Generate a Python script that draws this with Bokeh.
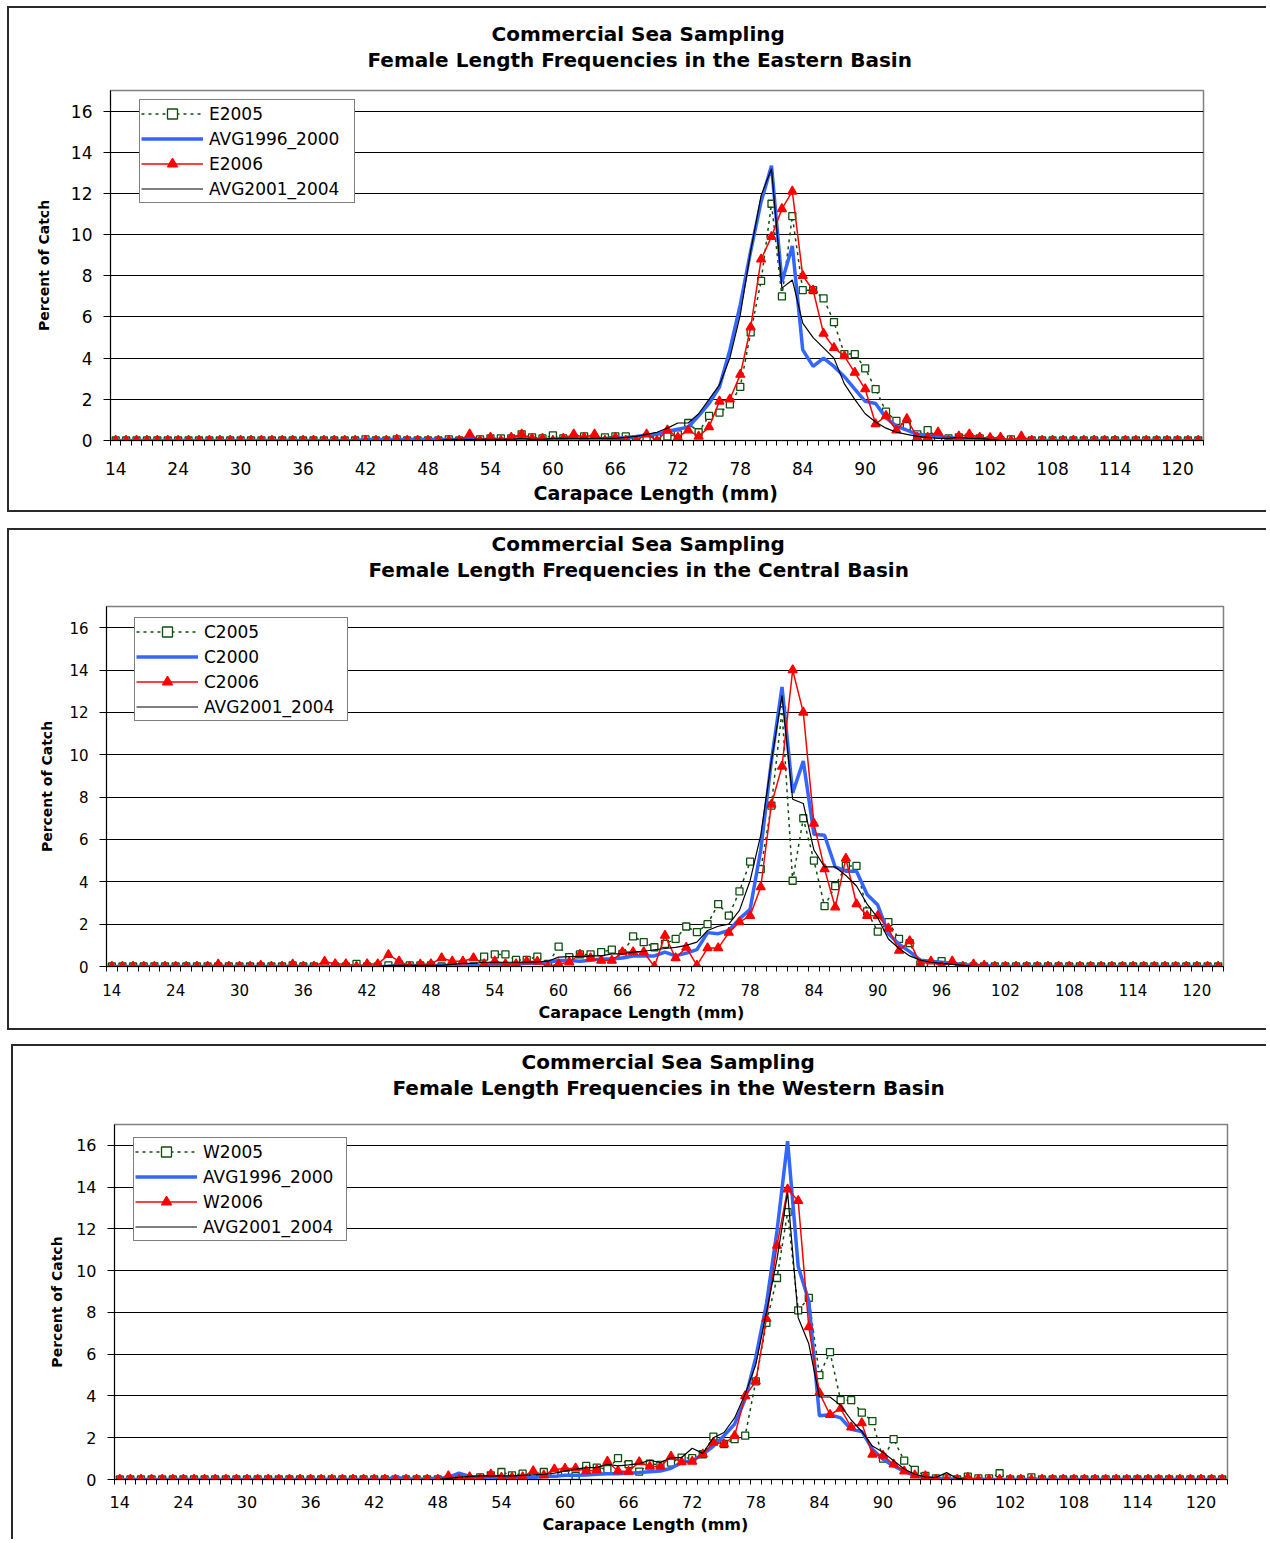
from bokeh.plotting import figure
from bokeh.models import (Range1d, FixedTicker, Legend, LegendItem, Title,
                          ColumnDataSource)
from bokeh.embed import file_html
from bokeh.resources import INLINE

# ---------------- data ----------------
# carapace-length categories of the x axis (one per mm after the first bin)
lengths = [14] + list(range(19, 123))
tick_lengths = [14, 24, 30, 36, 42, 48, 54, 60, 66, 72, 78, 84, 90, 96, 102, 108, 114, 120]
tick_labels = [str(v) for v in tick_lengths]

# values below are for lengths 28..105 (all other categories read as 0)
FIRST = 28

# Eastern basin
E2005 = [0, 0, 0, 0, 0, 0, 0, 0, 0, 0,
         0, 0, 0, 0, 0.05, 0, 0, 0.05, 0, 0,
         0, 0, 0.05, 0, 0, 0.05, 0.1, 0.1, 0.1, 0.3,
         0.15, 0.1, 0.25, 0.1, 0.1, 0.2, 0, 0.15, 0.2, 0.2,
         0.05, 0.15, 0.2, 0.2, 0.3, 0.85, 0.4, 1.2, 1.35, 1.75,
         2.6, 5.25, 7.75, 11.5, 7.0, 10.9, 7.3, 7.3, 6.9, 5.75,
         4.2, 4.2, 3.5, 2.5, 1.4, 0.95, 0.7, 0.3, 0.5, 0.15,
         0.1, 0.15, 0.15, 0.1, 0, 0, 0.05, 0]
E_AVG1996_2000 = [0, 0, 0, 0, 0, 0, 0, 0, 0, 0,
                  0, 0, 0, 0, 0.05, 0.05, 0.05, 0.05, 0.05, 0.05,
                  0.05, 0.05, 0.05, 0.05, 0.05, 0.05, 0.05, 0.05, 0.05, 0.1,
                  0.05, 0.05, 0.05, 0.1, 0.1, 0.05, 0.05, 0.1, 0.1, 0.15,
                  0.2, 0.25, 0.3, 0.45, 0.55, 0.65, 1.2, 1.8, 2.6, 4.4,
                  6.6, 9.2, 11.6, 13.35, 7.7, 9.45, 4.4, 3.6, 4.0, 3.6,
                  3.1, 2.5, 1.9, 1.8, 1.1, 0.7, 0.5, 0.3, 0.25, 0.2,
                  0.15, 0.1, 0.1, 0.1, 0.05, 0.05, 0, 0]
E2006 = [0, 0, 0, 0, 0, 0, 0, 0, 0, 0,
         0, 0, 0, 0, 0, 0, 0, 0.05, 0, 0,
         0, 0, 0, 0, 0.3, 0, 0.15, 0, 0.15, 0.3,
         0.1, 0.1, 0, 0.1, 0.3, 0.15, 0.3, 0, 0.15, 0,
         0, 0.3, 0, 0.5, 0.15, 0.5, 0.2, 0.65, 1.9, 2.0,
         3.2, 5.5, 8.8, 9.9, 11.25, 12.1, 8.0, 7.3, 5.2, 4.5,
         4.1, 3.3, 2.5, 0.8, 1.2, 0.5, 1.05, 0.15, 0.15, 0.4,
         0, 0.2, 0.3, 0.15, 0.13, 0.15, 0, 0.2]
E_AVG2001_2004 = [0, 0, 0, 0, 0, 0, 0, 0, 0, 0,
                  0, 0, 0, 0, 0, 0, 0, 0, 0, 0,
                  0, 0, 0.05, 0.05, 0.05, 0.05, 0.05, 0.05, 0.05, 0.1,
                  0.05, 0.05, 0.1, 0.1, 0.1, 0.1, 0.1, 0.1, 0.1, 0.15,
                  0.2, 0.3, 0.4, 0.6, 0.85, 0.85, 1.3, 2.0, 2.7, 4.0,
                  6.1, 9.2, 11.9, 13.2, 7.4, 7.8, 5.7, 5.0, 4.5, 4.0,
                  2.75, 2.0, 1.3, 0.9, 0.6, 0.4, 0.3, 0.2, 0.15, 0.1,
                  0.1, 0.15, 0.1, 0.1, 0.05, 0, 0, 0]

# Central basin
C2005 = [0, 0, 0, 0, 0, 0, 0, 0.05, 0, 0,
         0, 0, 0, 0.12, 0, 0, 0.05, 0.1, 0.05, 0.05,
         0.05, 0, 0, 0.1, 0, 0.47, 0.57, 0.57, 0.31, 0.31,
         0.47, 0.12, 0.94, 0.44, 0.57, 0.57, 0.68, 0.8, 0.6, 1.42,
         1.15, 0.91, 1.07, 1.3, 1.89, 1.62, 2.0, 2.95, 2.4, 3.55,
         4.95, 4.6, 7.6, 12.1, 4.05, 7.0, 5.0, 2.85, 3.8, 4.75,
         4.75, 2.6, 1.65, 2.1, 1.3, 1.1, 0.1, 0.1, 0.25, 0.05,
         0, 0, 0, 0, 0, 0, 0, 0]
C2000 = [0, 0, 0, 0, 0, 0, 0, 0, 0, 0,
         0, 0, 0, 0, 0, 0, 0, 0.05, 0.05, 0.05,
         0.05, 0.05, 0.05, 0.05, 0.05, 0.05, 0.1, 0.1, 0.12, 0.15,
         0.15, 0.2, 0.28, 0.28, 0.25, 0.3, 0.36, 0.35, 0.4, 0.5,
         0.5, 0.5, 0.68, 0.5, 0.63, 0.8, 1.6, 1.55, 1.7, 2.25,
         2.7, 5.5, 9.7, 13.2, 8.2, 9.7, 6.25, 6.2, 4.7, 4.5,
         4.5, 3.4, 2.9, 1.55, 1.05, 0.7, 0.3, 0.25, 0.2, 0.15,
         0.1, 0.05, 0.05, 0, 0, 0, 0, 0]
C2006 = [0.1, 0, 0, 0, 0.05, 0, 0, 0.1, 0, 0,
         0.24, 0.12, 0.12, 0, 0.12, 0.12, 0.55, 0.25, 0, 0.1,
         0.12, 0.4, 0.25, 0.25, 0.4, 0.12, 0.25, 0.12, 0.12, 0.25,
         0.24, 0, 0.12, 0.2, 0.57, 0.4, 0.28, 0.28, 0.68, 0.68,
         0.68, 0, 1.46, 0.4, 0.9, 0.05, 0.87, 0.87, 1.6, 2.1,
         2.4, 3.75, 7.65, 9.45, 14.0, 12.0, 6.75, 4.6, 2.8, 5.1,
         2.95, 2.4, 2.4, 1.8, 0.75, 1.2, 0.1, 0.25, 0, 0.25,
         0, 0.1, 0.05, 0, 0, 0, 0, 0]
C_AVG2001_2004 = [0, 0, 0, 0, 0, 0, 0, 0, 0, 0,
                  0, 0, 0, 0, 0, 0, 0.05, 0.05, 0.05, 0.05,
                  0.05, 0.05, 0.1, 0.15, 0.15, 0.2, 0.2, 0.2, 0.2, 0.2,
                  0.22, 0.25, 0.44, 0.47, 0.47, 0.5, 0.5, 0.6, 0.6, 0.68,
                  0.72, 0.79, 0.85, 0.9, 1.0, 1.15, 1.7, 1.9, 2.0, 2.65,
                  4.05, 6.2, 9.7, 12.8, 7.9, 7.7, 5.5, 4.7, 4.7, 4.3,
                  3.8, 2.95, 2.3, 1.3, 0.85, 0.5, 0.3, 0.2, 0.15, 0.1,
                  0.05, 0, 0, 0, 0, 0, 0, 0]

# Western basin
W2005 = [0, 0, 0, 0, 0, 0, 0, 0, 0, 0,
         0, 0, 0, 0, 0, 0, 0, 0, 0, 0,
         0, 0, 0, 0, 0.1, 0.2, 0.36, 0.2, 0.28, 0.12,
         0.36, 0.3, 0.38, 0.17, 0.65, 0.57, 0.5, 1.02, 0.73, 0.38,
         0.76, 0.7, 0.81, 1.05, 1.02, 1.21, 2.05, 1.7, 1.93, 2.1,
         4.7, 7.5, 9.65, 12.8, 8.1, 8.7, 5.0, 6.1, 3.8, 3.8,
         3.2, 2.8, 1.0, 1.93, 0.9, 0.46, 0.17, 0.05, 0.05, 0,
         0.14, 0.05, 0.05, 0.3, 0, 0, 0.1, 0]
W_AVG1996_2000 = [0, 0, 0, 0, 0, 0, 0, 0, 0, 0,
                  0, 0, 0, 0, 0, 0, 0.1, 0.05, 0, 0.05,
                  0.05, 0.1, 0.3, 0.15, 0.1, 0.1, 0.1, 0.1, 0.1, 0.1,
                  0.15, 0.15, 0.2, 0.2, 0.22, 0.25, 0.27, 0.28, 0.3, 0.33,
                  0.37, 0.41, 0.54, 0.81, 0.9, 1.2, 1.6, 2.1, 2.65, 3.85,
                  5.85, 8.4, 11.9, 16.2, 10.2, 8.55, 3.05, 3.1, 2.95, 2.4,
                  2.3, 1.45, 0.97, 0.65, 0.4, 0.17, 0.1, 0.05, 0.05, 0,
                  0, 0, 0, 0, 0, 0, 0, 0]
W2006 = [0, 0, 0, 0, 0, 0, 0, 0, 0, 0,
         0, 0, 0, 0, 0, 0, 0, 0, 0, 0,
         0, 0.17, 0, 0.12, 0.05, 0.25, 0.1, 0.1, 0.12, 0.41,
         0.2, 0.49, 0.52, 0.54, 0.41, 0.46, 0.86, 0.41, 0.38, 0.84,
         0.62, 0.62, 1.1, 0.84, 0.86, 1.21, 1.77, 1.7, 2.1, 4.0,
         4.7, 7.7, 11.2, 13.9, 13.35, 7.3, 4.15, 3.1, 3.4, 2.5,
         2.7, 1.2, 1.15, 0.73, 0.4, 0.2, 0.17, 0, 0, 0,
         0.1, 0, 0, 0, 0, 0, 0, 0]
W_AVG2001_2004 = [0, 0, 0, 0, 0, 0, 0, 0, 0, 0,
                  0, 0, 0, 0, 0, 0, 0, 0, 0, 0,
                  0, 0.05, 0.1, 0.15, 0.17, 0.17, 0.17, 0.17, 0.2, 0.22,
                  0.25, 0.3, 0.41, 0.5, 0.57, 0.57, 0.73, 0.65, 0.7, 0.76,
                  0.92, 0.81, 1.05, 1.05, 1.5, 1.25, 2.0, 2.25, 2.95, 4.1,
                  5.5, 8.0, 10.55, 13.75, 7.75, 6.5, 3.95, 3.95, 3.55, 2.85,
                  2.3, 1.6, 1.3, 0.9, 0.5, 0.25, 0.12, 0.1, 0.33, 0.05,
                  0, 0, 0, 0, 0, 0, 0, 0]

TITLE1 = "Commercial Sea Sampling"
X_LABEL = "Carapace Length (mm)"
Y_LABEL = "Percent of Catch"


def full(vals):
    out = [0.0] * len(lengths)
    for k, v in enumerate(vals):
        out[lengths.index(FIRST + k)] = v
    return out


FONT = "DejaVu Sans"
STYLES = [
    dict(color="#0b4f0b", width=1.5, dash="3 4", marker="square", msize=7, mfill="white"),
    dict(color="#3366ff", width=3.5, dash="solid", marker=None),
    dict(color="#ff0000", width=1.5, dash="solid", marker="triangle", msize=9, mfill="#ff0000"),
    dict(color="#000000", width=1.2, dash="solid", marker=None),
]


def make_panel(c):
    n = len(lengths)
    xs = list(range(n))
    p = figure(width=c["w"], height=c["h"], title=None,
               x_range=Range1d(-0.5, n - 0.5), y_range=Range1d(0, 17),
               output_backend="svg", toolbar_location=None,
               min_border_left=c["bl"], min_border_right=c["br"],
               min_border_top=c["bt"], min_border_bottom=c["bb"])
    p.styles = c["css"]
    p.margin = c["margin"]
    p.outline_line_color = "#808080"
    p.outline_line_width = 1.5
    p.background_fill_color = "white"
    p.border_fill_color = "white"

    # x axis: labels every 6th category, tick marks between categories
    idx = [lengths.index(v) for v in tick_lengths]
    xt = FixedTicker(ticks=idx, minor_ticks=[i - 0.5 for i in range(n + 1)])
    xa = p.xaxis[0]
    xa.ticker = xt
    xa.major_label_overrides = {i: lab for i, lab in zip(idx, tick_labels)}
    xa.major_tick_out = 0
    xa.major_tick_in = 0
    xa.minor_tick_out = 5
    xa.minor_tick_in = 0
    xa.minor_tick_line_color = "black"
    xa.axis_line_color = "black"
    xa.major_label_text_font = FONT
    xa.major_label_text_font_size = c["tick_fs"]
    xa.major_label_text_color = "black"
    xa.major_label_standoff = c["xstand"]

    ya = p.yaxis[0]
    ya.ticker = FixedTicker(ticks=list(range(0, 17, 2)), minor_ticks=[])
    ya.major_tick_out = 7
    ya.major_tick_in = 0
    ya.major_tick_line_color = "black"
    ya.axis_line_color = "black"
    ya.major_label_text_font = FONT
    ya.major_label_text_font_size = c["tick_fs"]
    ya.major_label_text_color = "black"
    ya.major_label_standoff = 11
    ya.axis_label = Y_LABEL
    ya.axis_label_text_font = FONT
    ya.axis_label_text_font_size = "14px"
    ya.axis_label_text_font_style = "bold"
    ya.axis_label_text_color = "black"
    ya.axis_label_standoff = c["ylab_stand"]

    p.xgrid.visible = False
    p.ygrid.ticker = FixedTicker(ticks=list(range(0, 17, 2)))
    p.ygrid.grid_line_color = "black"
    p.ygrid.grid_line_width = 1

    items = []
    for name, vals, st in zip(c["names"], c["series"], STYLES):
        src = ColumnDataSource(dict(x=xs, y=full(vals)))
        rs = [p.line("x", "y", source=src, line_color=st["color"],
                     line_width=st["width"], line_dash=st["dash"])]
        if st["marker"]:
            rs.append(p.scatter("x", "y", source=src, marker=st["marker"],
                                size=st["msize"], line_color=st["color"],
                                fill_color=st["mfill"], line_width=1.3))
        items.append(LegendItem(label=name, renderers=rs))

    leg = Legend(items=items, location=c["leg_loc"], margin=0, padding=1,
                 spacing=0, glyph_width=62, glyph_height=25, label_height=25,
                 label_width=c["leg_lw"], label_standoff=6, label_text_font=FONT,
                 label_text_font_size="17px", label_text_color="black",
                 border_line_color="black", border_line_width=1,
                 background_fill_color="white", background_fill_alpha=1)
    p.add_layout(leg)

    # titles: second line first so that it sits nearest the frame
    p.add_layout(Title(text=c["title2"], align="left", offset=c["t2_off"],
                       text_font=FONT, text_font_size=c["title_fs"],
                       text_font_style="bold", text_color="black",
                       standoff=c["t2_st"]), "above")
    p.add_layout(Title(text=TITLE1, align="left", offset=c["t1_off"],
                       text_font=FONT, text_font_size=c["title_fs"],
                       text_font_style="bold", text_color="black",
                       standoff=c["t1_st"]), "above")
    p.add_layout(Title(text=X_LABEL, align="left", offset=c["xl_off"],
                       text_font=FONT, text_font_size=c["xl_fs"],
                       text_font_style="bold", text_color="black",
                       standoff=4), "below")
    return p


BORDER = "2px solid #2a2a2a"

p1 = make_panel(dict(
    w=1259, h=506, bl=101, br=65, bt=82, bb=74, margin=(6, 0, 0, 7),
    css={"border": BORDER, "border-right": "none"},
    tick_fs="17px", xstand=16, ylab_stand=16,
    names=["E2005", "AVG1996_2000", "E2006", "AVG2001_2004"],
    series=[E2005, E_AVG1996_2000, E2006, E_AVG2001_2004],
    leg_loc=(29, 237), leg_lw=144,
    title2="Female Length Frequencies in the Eastern Basin",
    title_fs="20px", t1_off=381, t2_off=257, t2_st=37, t1_st=-37,
    xl_off=423, xl_fs="19px"))

p2 = make_panel(dict(
    w=1259, h=502, bl=97, br=45, bt=76, bb=66, margin=(16, 0, 0, 7),
    css={"border": BORDER, "border-right": "none"},
    tick_fs="15px", xstand=12, ylab_stand=11,
    names=["C2005", "C2000", "C2006", "AVG2001_2004"],
    series=[C2005, C2000, C2006, C_AVG2001_2004],
    leg_loc=(28, 245), leg_lw=142,
    title2="Female Length Frequencies in the Central Basin",
    title_fs="20px", t1_off=385, t2_off=262, t2_st=49, t1_st=-49,
    xl_off=432, xl_fs="16px"))

p3 = make_panel(dict(
    w=1255, h=495, bl=101, br=41, bt=78, bb=62, margin=(14, 0, 0, 11),
    css={"border": BORDER, "border-right": "none", "border-bottom": "none"},
    tick_fs="16px", xstand=11, ylab_stand=8,
    names=["W2005", "AVG1996_2000", "W2006", "AVG2001_2004"],
    series=[W2005, W_AVG1996_2000, W2006, W_AVG2001_2004],
    leg_loc=(19, 238), leg_lw=142,
    title2="Female Length Frequencies in the Western Basin",
    title_fs="20px", t1_off=407, t2_off=278, t2_st=49, t1_st=-49,
    xl_off=428, xl_fs="16px"))

# three independent roots, stacked on the page (no cross-plot frame alignment)
open("out.html", "w").write(file_html([p1, p2, p3], INLINE))
